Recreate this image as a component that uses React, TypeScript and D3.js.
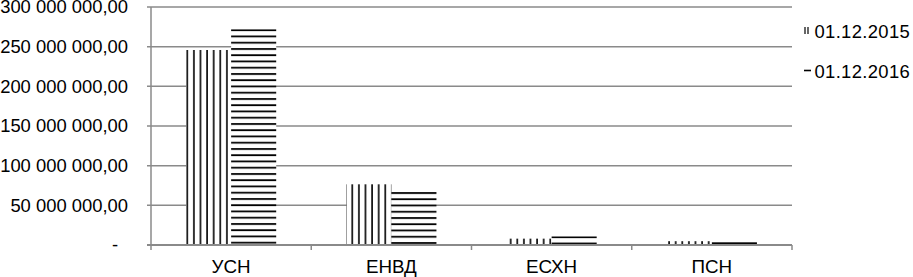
import React from "react";
import * as d3 from "d3";

const categories = ["УСН", "ЕНВД", "ЕСХН", "ПСН"];
const seriesNames = ["01.12.2015", "01.12.2016"];
const values2015 = [245800000, 76500000, 8000000, 4800000];
const values2016 = [272000000, 66800000, 11000000, 3600000];
const yTicks = [0, 50000000, 100000000, 150000000, 200000000, 250000000, 300000000];

const W = 913;
const H = 277;
const M = { left: 151, right: 121, top: 7, bottom: 32 };

const locale = d3.formatLocale({ decimal: ",", thousands: " ", grouping: [3], currency: ["", ""] });
const fmt = locale.format(",.2f");

export default function App() {
  const x0 = d3.scaleBand<string>().domain(categories).range([M.left, W - M.right]).paddingInner(0).paddingOuter(0);
  const x1 = d3.scaleBand<string>().domain(seriesNames).range([0, x0.bandwidth()]).paddingInner(0).paddingOuter(0.778);
  const y = d3.scaleLinear().domain([0, 300000000]).range([H - M.bottom, M.top]);
  const font = "'Liberation Sans', Arial, sans-serif";
  const grid = "#8a8a8a";
  const base = y(0);

  return (
    <svg width={W} height={H} style={{ position: "absolute", left: 0, top: 0, background: "#fff" }} fontFamily={font}>
      <defs>
        <pattern id="pv" patternUnits="userSpaceOnUse" width={6.6} height={10} x={1.5}>
          <rect width={6.6} height={10} fill="#fff" />
          <line x1={1} x2={1} y1={0} y2={10} stroke="#000" strokeWidth={1.6} />
        </pattern>
        {categories.map((c, i) => (
          <pattern key={c} id={"ph" + i} patternUnits="userSpaceOnUse" width={10} height={6.25} y={y(values2016[i])}>
            <rect width={10} height={6.25} fill="#fff" />
            <line x1={0} x2={10} y1={1} y2={1} stroke="#000" strokeWidth={1.8} />
          </pattern>
        ))}
        <pattern id="pvl" patternUnits="userSpaceOnUse" width={3} height={10} x={0}>
          <line x1={1} x2={1} y1={0} y2={10} stroke="#000" strokeWidth={1.2} />
        </pattern>
      </defs>
      {yTicks.map((t) => (
        <line key={"g" + t} x1={M.left - 4} x2={W - M.right} y1={y(t)} y2={y(t)} stroke={grid} strokeWidth={1.5} />
      ))}
      {yTicks.map((t) => (
        <text key={"t" + t} x={128} y={y(t)} dy="0.35em" dx={t === 0 ? -10 : 0} textAnchor="end" fontSize={18.4} fill="#000">
          {t === 0 ? "-" : fmt(t)}
        </text>
      ))}
      {categories.map((c, i) => (
        <g key={c}>
          <rect
            x={(x0(c) as number) + (x1(seriesNames[0]) as number)}
            width={x1.bandwidth()}
            y={y(values2015[i])}
            height={base - y(values2015[i])}
            fill="url(#pv)"
          />
          <rect
            x={(x0(c) as number) + (x1(seriesNames[1]) as number)}
            width={x1.bandwidth()}
            y={y(values2016[i])}
            height={base - y(values2016[i])}
            fill={"url(#ph" + i + ")"}
          />
        </g>
      ))}
      <line x1={M.left} x2={M.left} y1={M.top} y2={base + 5} stroke={grid} strokeWidth={1.5} />
      <line x1={M.left - 4} x2={W - M.right} y1={base} y2={base} stroke={grid} strokeWidth={1.8} />
      {categories.map((c) => (
        <line key={"xt" + c} x1={(x0(c) as number) + x0.bandwidth()} x2={(x0(c) as number) + x0.bandwidth()} y1={base} y2={base + 5} stroke={grid} strokeWidth={1.5} />
      ))}
      {categories.map((c) => (
        <text key={"xl" + c} x={(x0(c) as number) + x0.bandwidth() / 2} y={273} textAnchor="middle" fontSize={18.8} fill="#000">
          {c}
        </text>
      ))}
      <g>
        <rect x={804} y={27} width={6} height={7} fill="url(#pvl)" />
        <text x={814.5} y={37.5} fontSize={18.4} letterSpacing={0.35} fill="#000">{seriesNames[0]}</text>
        <line x1={804} x2={811} y1={70.5} y2={70.5} stroke="#000" strokeWidth={1.6} />
        <text x={814.5} y={77.5} fontSize={18.4} letterSpacing={0.35} fill="#000">{seriesNames[1]}</text>
      </g>
    </svg>
  );
}
